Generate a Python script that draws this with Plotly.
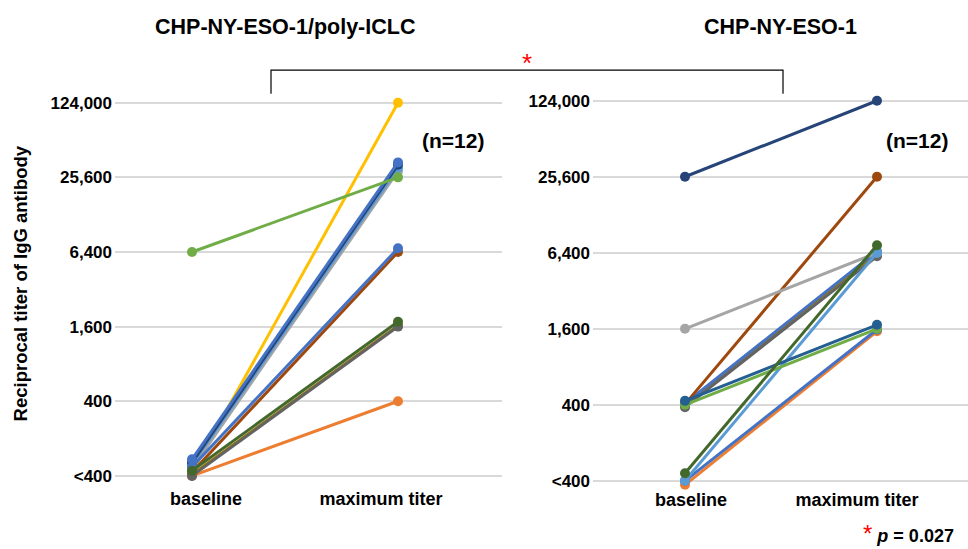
import numpy as np
import plotly.graph_objects as go

# ---------------- data ----------------
timepoints = ["baseline", "maximum titer"]
tick_values = [100, 400, 1600, 6400, 25600, 102400]
tick_labels = ["<400", "400", "1,600", "6,400", "25,600", "124,000"]

# CHP-NY-ESO-1/poly-ICLC (n=12): colour, baseline titer, maximum titer
polyiclc_colors = ["#ED7D31", "#FFC000", "#A5A5A5", "#5B9BD5", "#264478", "#4472C4",
                   "#9E480E", "#4472C4", "#997300", "#636363", "#43682B", "#70AD47"]
polyiclc_baseline = [100, 107, 115, 123, 128, 136, 107, 118, 102, 100, 110, 6400]
polyiclc_maximum = [400, 102400, 28700, 30500, 32300, 33800, 6400, 6850, 1630, 1600, 1750, 25600]

# CHP-NY-ESO-1 (n=12)
chp_colors = ["#997300", "#636363", "#4472C4", "#9E480E", "#A5A5A5", "#ED7D31",
              "#4472C4", "#5B9BD5", "#70AD47", "#255E91", "#43682B", "#264478"]
chp_baseline = [400, 383, 411, 405, 1600, 93, 100, 100, 400, 430, 115, 25600]
chp_maximum = [6400, 6000, 6580, 25600, 6400, 1530, 1580, 6400, 1600, 1720, 7350, 102400]

W, H = 968, 549
FONT = "Liberation Sans"


def px_x(p):
    return p / W


def px_y(p):
    return 1 - p / H


def log_range(bottom_px, top_px, grid_bottom_px, grid_top_px):
    # grid spans 100 .. 102400 (5 steps of x4) between grid_bottom_px and grid_top_px
    step = (grid_bottom_px - grid_top_px) / 5.0
    lo = -(bottom_px - grid_bottom_px) / step
    hi = 5 + (grid_top_px - top_px) / step
    return [2 + lo * np.log10(4), 2 + hi * np.log10(4)]


fig = go.Figure()

for c, b, m in zip(polyiclc_colors, polyiclc_baseline, polyiclc_maximum):
    fig.add_trace(go.Scatter(x=[0, 1], y=[b, m], mode="lines+markers",
                             line=dict(color=c, width=3), marker=dict(color=c, size=10),
                             xaxis="x", yaxis="y", cliponaxis=False, showlegend=False,
                             hoverinfo="skip"))
for c, b, m in zip(chp_colors, chp_baseline, chp_maximum):
    fig.add_trace(go.Scatter(x=[0, 1], y=[b, m], mode="lines+markers",
                             line=dict(color=c, width=3), marker=dict(color=c, size=10),
                             xaxis="x2", yaxis="y2", cliponaxis=False, showlegend=False,
                             hoverinfo="skip"))

yax_common = dict(type="log", tickmode="array", tickvals=tick_values, ticktext=tick_labels,
                  showgrid=True, gridcolor="#D9D9D9", gridwidth=2, zeroline=False,
                  showline=False, ticks="", ticklabelstandoff=2,
                  tickfont=dict(family=FONT, size=17, color="#000000", weight="bold"))
xax_common = dict(tickmode="array", ticktext=timepoints, showgrid=False,
                  zeroline=False, showline=False, ticks="", ticklabelstandoff=0,
                  tickfont=dict(family=FONT, size=18, color="#000000", weight="bold"))

# x scale: 0 -> baseline point, 1 -> maximum point
L_X0, L_X1 = 192, 398
R_X0, R_X1 = 685, 877
lu = L_X1 - L_X0
ru = R_X1 - R_X0

fig.update_layout(
    width=W, height=H, margin=dict(l=0, r=0, t=0, b=0),
    paper_bgcolor="white", plot_bgcolor="white",
    xaxis=dict(domain=[px_x(115), px_x(502)],
               range=[-(L_X0 - 115) / lu, 1 + (502 - L_X1) / lu],
               tickvals=[(206 - L_X0) / lu, (381 - L_X0) / lu], **xax_common),
    yaxis=dict(domain=[px_y(489), px_y(94)], anchor="x",
               range=log_range(489, 94, 479, 101), **yax_common),
    xaxis2=dict(domain=[px_x(593), 1.0], anchor="y2",
                range=[-(R_X0 - 593) / ru, 1 + (968 - R_X1) / ru],
                tickvals=[(691 - R_X0) / ru, (857 - R_X0) / ru], **xax_common),
    yaxis2=dict(domain=[px_y(490), px_y(93)], anchor="x2",
                range=log_range(490, 93, 484, 99), **yax_common),
)

ann = []


def add_text(text, x, y, size, color="#000000", angle=0):
    ann.append(dict(text=text, x=px_x(x), y=px_y(y), xref="paper", yref="paper",
                    showarrow=False, xanchor="center", yanchor="middle", textangle=angle,
                    font=dict(family=FONT, size=size, color=color)))


add_text("<b>CHP-NY-ESO-1/poly-ICLC</b>", 285, 24, 21.5)
add_text("<b>CHP-NY-ESO-1</b>", 780, 24, 21.5)
add_text("<b>(n=12)</b>", 453, 139, 21)
add_text("<b>(n=12)</b>", 917, 139, 21)
add_text("<b>Reciprocal titer of IgG antibody</b>", 20, 284, 18.5, angle=-90)
add_text("*", 527, 61, 26, color="#FF0000")
ann.append(dict(text="<span style='color:#FF0000;font-size:24px'>*</span> <b><i>p</i> = 0.027</b>",
                x=px_x(955), y=px_y(537), xref="paper", yref="paper", showarrow=False,
                xanchor="right", yanchor="middle", borderpad=0,
                font=dict(family=FONT, size=18, color="#000000")))
fig.update_layout(annotations=ann)

# significance bracket
fig.add_shape(type="path", xref="paper", yref="paper",
              path=f"M {px_x(271)},{px_y(92)} L {px_x(271)},{px_y(68)} "
                   f"L {px_x(783)},{px_y(68)} L {px_x(783)},{px_y(92)}",
              line=dict(color="#000000", width=1.2))

fig.write_html("out.html", config={"displayModeBar": False},
               post_script="document.body.style.margin='0';document.body.style.overflow='hidden';")
